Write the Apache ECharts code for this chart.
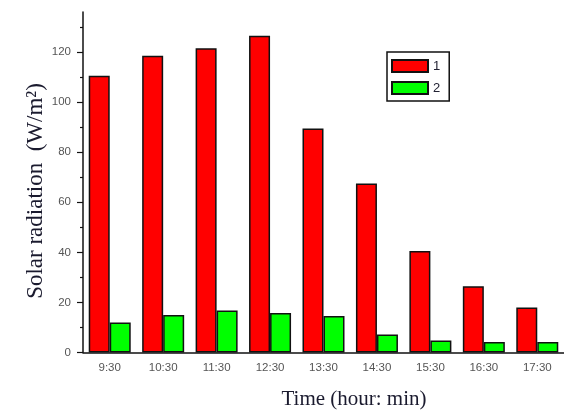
<!DOCTYPE html>
<html><head><meta charset="utf-8">
<script src="https://cdn.jsdelivr.net/npm/echarts@6/dist/echarts.min.js"></script>
<style>html,body{margin:0;padding:0;background:#fff}#c{width:564px;height:412px}</style>
</head><body><div id="c"></div>
<script>
const categories = ['9:30','10:30','11:30','12:30','13:30','14:30','15:30','16:30','17:30'];
const series1 = [110.5, 118.5, 121.5, 126.5, 89.5, 67.5, 40.5, 26.5, 18];
const series2 = [12, 15, 16.8, 15.8, 14.6, 7.2, 4.8, 4.2, 4.2];
const yMajor = [0, 20, 40, 60, 80, 100, 120];
const yMinor = [10, 30, 50, 70, 90, 110, 130];
const seriesNames = ['1', '2'];

const chart = echarts.init(document.getElementById('c'), null, {renderer: 'canvas'});
const labelFont = {fontFamily: 'Liberation Sans', fontSize: 11.5, color: '#555'};
chart.setOption({
  animation: false,
  backgroundColor: '#fff',
  grid: {left: 83, right: -6, top: 12, bottom: 59.5},
  legend: {
    orient: 'vertical', left: 387, top: 52,
    icon: 'rect',
    itemWidth: 36, itemHeight: 12, itemGap: 8,
    padding: [7, 9, 6, 4],
    borderColor: '#111', borderWidth: 1.5,
    textStyle: {fontFamily: 'Liberation Sans', fontSize: 13, color: '#223', padding: [0,0,0,0]},
    data: seriesNames
  },
  xAxis: [{
    type: 'category', data: categories,
    axisLine: {lineStyle: {color: '#111', width: 1.5}},
    axisTick: {alignWithLabel: true, length: 5, lineStyle: {color: '#111', width: 1.2}},
    axisLabel: Object.assign({margin: 9, interval: 0}, labelFont)
  }, {
    type: 'category', data: categories, position: 'bottom',
    axisLine: {show: false},
    axisTick: {inside: true, length: 3, lineStyle: {color: '#111', width: 1.2}},
    axisLabel: {show: false}
  }],
  yAxis: [{
    type: 'value', min: 0, max: 136,
    axisLine: {show: true, lineStyle: {color: '#111', width: 1.5}},
    axisTick: {show: true, length: 6, customValues: yMajor, lineStyle: {color: '#111', width: 1.2}},
    axisLabel: Object.assign({margin: 12, customValues: yMajor}, labelFont),
    splitLine: {show: false}
  }, {
    type: 'value', min: 0, max: 136, position: 'left',
    axisLine: {show: false},
    axisTick: {show: true, length: 3, customValues: yMinor, lineStyle: {color: '#111', width: 1.2}},
    axisLabel: {show: false},
    splitLine: {show: false}
  }],
  series: [{
    name: seriesNames[0], type: 'bar', data: series1, barWidth: 21, barGap: '0%',
    itemStyle: {color: '#ff0000', borderColor: '#111', borderWidth: 1.5}
  }, {
    name: seriesNames[1], type: 'bar', data: series2, barWidth: 21, barGap: '0%',
    itemStyle: {color: '#00ff00', borderColor: '#111', borderWidth: 1.5}
  }],
  graphic: [{
    type: 'text', x: 36, y: 191, rotation: Math.PI / 2, originX: 0, originY: 0,
    style: {text: 'Solar radiation  (W/m²)', fontFamily: 'Liberation Serif', fontSize: 23,
      fill: '#1a1a2e', align: 'center', verticalAlign: 'middle'}
  }, {
    type: 'text', x: 354, y: 399,
    style: {text: 'Time (hour: min)', fontFamily: 'Liberation Serif', fontSize: 21,
      fill: '#1a1a2e', align: 'center', verticalAlign: 'middle'}
  }]
});
</script></body></html>
